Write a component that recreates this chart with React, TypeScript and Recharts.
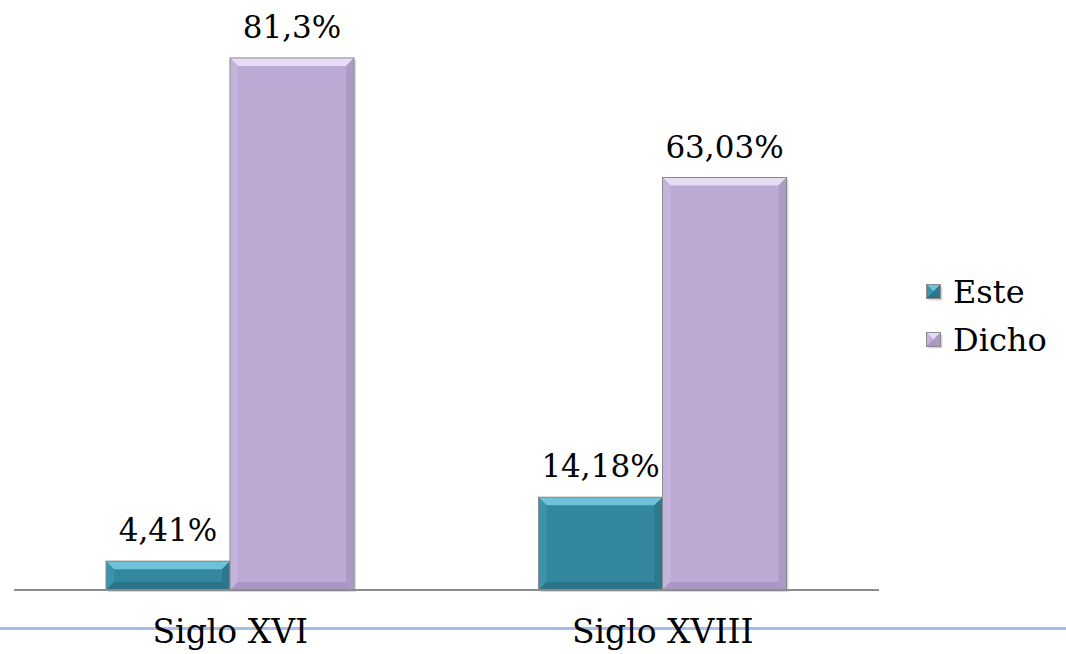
import React from "react";
import { BarChart, Bar, XAxis, YAxis, LabelList } from "recharts";

const categories = ["Siglo XVI", "Siglo XVIII"];
const esteValues = [4.41, 14.18];
const dichoValues = [81.3, 63.03];
const esteLabels = ["4,41%", "14,18%"];
const dichoLabels = ["81,3%", "63,03%"];
const seriesNames = ["Este", "Dicho"];

const data = categories.map((c, i) => ({
  name: c,
  Este: esteValues[i],
  Dicho: dichoValues[i],
  esteLabel: esteLabels[i],
  dichoLabel: dichoLabels[i],
}));

const FONT = "'DejaVu Serif', serif";

const palettes: Record<string, any> = {
  teal: { base: "#33889E", top: "#6FC3D8", left: "#3A95AC", right: "#2D788C", bottom: "#2B7387" },
  lav: { base: "#BCAAD5", top: "#E6DCF4", left: "#C4B3DB", right: "#AD9BC6", bottom: "#A996C2" },
};

const BevelRect = ({ x, y, width: w, height: h, pal }: any) => {
  if (!w || !h || h <= 0) return null;
  const b = Math.min(8, h / 2, w / 2);
  return (
    <g>
      <rect x={x + 2} y={y + 2} width={w} height={h} fill="#000" opacity={0.15} />
      <rect x={x} y={y} width={w} height={h} fill={pal.base} />
      <polygon points={`${x},${y} ${x + w},${y} ${x + w - b},${y + b} ${x + b},${y + b}`} fill={pal.top} />
      <polygon points={`${x},${y} ${x + b},${y + b} ${x + b},${y + h - b} ${x},${y + h}`} fill={pal.left} />
      <polygon points={`${x + w},${y} ${x + w},${y + h} ${x + w - b},${y + h - b} ${x + w - b},${y + b}`} fill={pal.right} />
      <polygon points={`${x},${y + h} ${x + w},${y + h} ${x + w - b},${y + h - b} ${x + b},${y + h - b}`} fill={pal.bottom} />
      <rect x={x} y={y} width={w} height={h} fill="none" stroke="#8a8a8a" strokeWidth={1} />
    </g>
  );
};

const TealShape = (props: any) => <BevelRect {...props} pal={palettes.teal} />;
const LavShape = (props: any) => <BevelRect {...props} pal={palettes.lav} />;

const CatTick = ({ x, y, payload }: any) => (
  <text x={x} y={y + 45} textAnchor="middle" style={{ fontFamily: FONT }} fontFamily={FONT} fontSize={33} fill="#000">
    {payload.value}
  </text>
);

const ValueLabel = ({ x, y, width, value }: any) => (
  <text x={x + width / 2} y={y - 20} textAnchor="middle" style={{ fontFamily: FONT }} fontFamily={FONT} fontSize={31} fill="#000">
    {value}
  </text>
);

const LegendMarker = ({ pal }: any) => (
  <svg width={17} height={17} style={{ display: "block" }}>
    <BevelRect x={0.5} y={0.5} width={14} height={14} pal={pal} />
  </svg>
);

export default function App() {
  const pals = [palettes.teal, palettes.lav];
  return (
    <div style={{ position: "absolute", left: 0, top: 0, width: 1066, height: 654, background: "#fff" }}>
      <div style={{ position: "absolute", left: 0, top: 627, width: 1066, height: 3, background: "#A7BFE5" }} />
      <div style={{ position: "absolute", left: 0, top: 0 }}>
        <BarChart
          width={1066}
          height={654}
          data={data}
          margin={{ top: 1, left: 14, right: 187, bottom: 0 }}
          barGap={0}
          barSize={124}
        >
          <YAxis hide domain={[0, 90]} />
          <XAxis
            dataKey="name"
            axisLine={{ stroke: "#8c8c8c", strokeWidth: 2 }}
            tickLine={false}
            tick={<CatTick />}
            height={64}
            interval={0}
          />
          <Bar dataKey="Este" isAnimationActive={false} shape={<TealShape />}>
            <LabelList dataKey="esteLabel" content={<ValueLabel />} />
          </Bar>
          <Bar dataKey="Dicho" isAnimationActive={false} shape={<LavShape />}>
            <LabelList dataKey="dichoLabel" content={<ValueLabel />} />
          </Bar>
        </BarChart>
      </div>
      <div style={{ position: "absolute", left: 926, top: 268, fontFamily: FONT, fontSize: 32, color: "#000", lineHeight: "48px" }}>
        {seriesNames.map((n, i) => (
          <div key={n} style={{ display: "flex", alignItems: "center" }}>
            <LegendMarker pal={pals[i]} />
            <span style={{ marginLeft: 10 }}>{n}</span>
          </div>
        ))}
      </div>
    </div>
  );
}
